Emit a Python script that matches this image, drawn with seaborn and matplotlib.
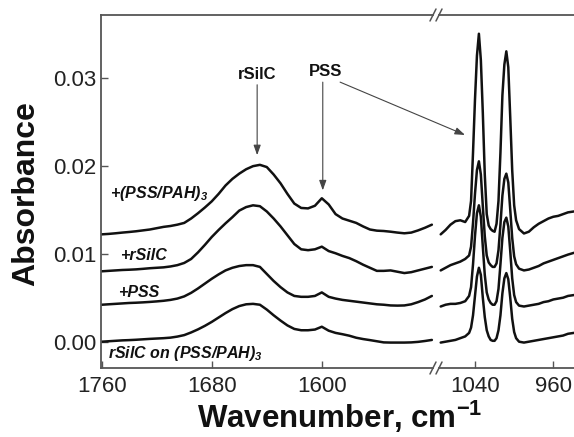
import numpy as np
import pandas as pd
import matplotlib
matplotlib.use("Agg")
import matplotlib.pyplot as plt
import seaborn as sns

sns.set_theme(style="ticks")
plt.rcParams['font.family'] = ['Liberation Sans', 'DejaVu Sans']
plt.rcParams['mathtext.fontset'] = 'custom'
plt.rcParams['mathtext.rm'] = 'Liberation Sans'
plt.rcParams['mathtext.bf'] = 'Liberation Sans:bold'
plt.rcParams['mathtext.it'] = 'Liberation Sans:italic'
plt.rcParams['mathtext.bfit'] = 'Liberation Sans:italic:bold'

# ---------------- data ----------------
samples = ["rSilC on (PSS/PAH)3", "+PSS", "+rSilC", "+(PSS/PAH)3"]

wn_left = [1760, 1755, 1750, 1745, 1740, 1735, 1730, 1725, 1720, 1715, 1710,
           1705, 1700, 1695, 1690, 1685, 1680, 1675, 1670, 1665, 1660, 1655,
           1650, 1645, 1640, 1635, 1630, 1625, 1620, 1615, 1610, 1605, 1600,
           1595, 1590, 1585, 1580, 1575, 1570, 1565, 1560, 1555, 1550, 1545,
           1540, 1535, 1530, 1525, 1520]
abs_left_bottom = [0.00000, 0.00005, 0.00010, 0.00015, 0.00018, 0.00022, 0.00027,
                   0.00032, 0.00036, 0.00040, 0.00046, 0.00058, 0.00075, 0.00105,
                   0.00140, 0.00180, 0.00225, 0.00275, 0.00325, 0.00370, 0.00405,
                   0.00425, 0.00430, 0.00420, 0.00365, 0.00300, 0.00240, 0.00185,
                   0.00145, 0.00130, 0.00130, 0.00138, 0.00170, 0.00125, 0.00100,
                   0.00085, 0.00068, 0.00045, 0.00030, 0.00018, 0.00005, -0.00008,
                   -0.00010, -0.00010, -0.00010, -0.00008, -0.00002, 0.00008, 0.00020]
abs_left_pss = [0.00420, 0.00425, 0.00430, 0.00435, 0.00440, 0.00443, 0.00447,
                0.00452, 0.00458, 0.00465, 0.00475, 0.00490, 0.00515, 0.00555,
                0.00605, 0.00660, 0.00715, 0.00765, 0.00810, 0.00840, 0.00860,
                0.00870, 0.00870, 0.00850, 0.00770, 0.00690, 0.00620, 0.00560,
                0.00520, 0.00510, 0.00510, 0.00520, 0.00560, 0.00510, 0.00490,
                0.00475, 0.00465, 0.00455, 0.00445, 0.00435, 0.00425, 0.00420,
                0.00412, 0.00410, 0.00412, 0.00425, 0.00450, 0.00480, 0.00520]
abs_left_rsilc = [0.00800, 0.00805, 0.00810, 0.00815, 0.00818, 0.00822, 0.00828,
                  0.00835, 0.00840, 0.00845, 0.00855, 0.00870, 0.00895, 0.00940,
                  0.01015, 0.01100, 0.01190, 0.01270, 0.01345, 0.01415, 0.01490,
                  0.01530, 0.01550, 0.01540, 0.01480, 0.01400, 0.01310, 0.01210,
                  0.01110, 0.01050, 0.01040, 0.01050, 0.01080, 0.01030, 0.01005,
                  0.00975, 0.00950, 0.00915, 0.00875, 0.00840, 0.00805, 0.00805,
                  0.00810, 0.00795, 0.00780, 0.00790, 0.00810, 0.00830, 0.00850]
abs_left_top = [0.01220, 0.01225, 0.01232, 0.01240, 0.01247, 0.01255, 0.01265,
                0.01275, 0.01290, 0.01305, 0.01315, 0.01330, 0.01350, 0.01400,
                0.01460, 0.01525, 0.01595, 0.01680, 0.01775, 0.01850, 0.01910,
                0.01960, 0.01995, 0.02010, 0.01985, 0.01900, 0.01800, 0.01680,
                0.01570, 0.01520, 0.01515, 0.01545, 0.01630, 0.01560, 0.01450,
                0.01400, 0.01375, 0.01350, 0.01310, 0.01275, 0.01262, 0.01258,
                0.01250, 0.01240, 0.01232, 0.01240, 0.01265, 0.01295, 0.01330]

wn_right = [1075, 1070, 1065, 1060, 1055, 1050, 1046, 1044, 1042, 1040, 1038,
            1036, 1034, 1032, 1030, 1028, 1026, 1024, 1022, 1020, 1018, 1016,
            1014, 1012, 1010, 1008, 1006, 1004, 1002, 1000, 998, 995, 990, 985,
            980, 975, 970, 965, 960, 955, 950, 945, 939]
abs_right_bottom = [-0.0001, 0.0000, 0.0001, 0.0002, 0.0004, 0.0006, 0.0010, 0.0016,
                    0.0030, 0.0052, 0.0074, 0.0084, 0.0076, 0.0050, 0.0028, 0.0013,
                    0.0006, 0.0002, 0.0001, 0.0001, 0.0004, 0.0013, 0.0030, 0.0055,
                    0.0072, 0.0078, 0.0071, 0.0050, 0.0026, 0.0011, 0.0004, 0.0000,
                    -0.0001, 0.0000, 0.0001, 0.0002, 0.0003, 0.0004, 0.0005, 0.0006,
                    0.0007, 0.0009, 0.0010]
abs_right_pss = [0.0040, 0.0042, 0.0043, 0.0043, 0.0044, 0.0046, 0.0052, 0.0062,
                 0.0088, 0.0120, 0.0146, 0.0155, 0.0142, 0.0108, 0.0076, 0.0056,
                 0.0048, 0.0044, 0.0042, 0.0042, 0.0046, 0.0060, 0.0088, 0.0118,
                 0.0136, 0.0141, 0.0131, 0.0103, 0.0072, 0.0053, 0.0045, 0.0041,
                 0.0040, 0.0041, 0.0042, 0.0043, 0.0045, 0.0046, 0.0048, 0.0049,
                 0.0050, 0.0052, 0.0053]
abs_right_rsilc = [0.0081, 0.0084, 0.0087, 0.0089, 0.0091, 0.0094, 0.0098, 0.0108,
                   0.0135, 0.0168, 0.0195, 0.0205, 0.0190, 0.0154, 0.0120, 0.0098,
                   0.0090, 0.0087, 0.0085, 0.0085, 0.0089, 0.0104, 0.0133, 0.0166,
                   0.0185, 0.0191, 0.0181, 0.0150, 0.0118, 0.0097, 0.0088, 0.0083,
                   0.0081, 0.0082, 0.0084, 0.0086, 0.0089, 0.0091, 0.0093, 0.0095,
                   0.0097, 0.0099, 0.0101]
abs_right_top = [0.0122, 0.0127, 0.0133, 0.0137, 0.0138, 0.0136, 0.0143, 0.0160,
                 0.0215, 0.0275, 0.0325, 0.0350, 0.0320, 0.0260, 0.0190, 0.0145,
                 0.0132, 0.0128, 0.0126, 0.0125, 0.0134, 0.0160, 0.0215, 0.0280,
                 0.0315, 0.0330, 0.0312, 0.0255, 0.0195, 0.0155, 0.0138, 0.0128,
                 0.0123, 0.0125, 0.0130, 0.0134, 0.0137, 0.0140, 0.0142, 0.0143,
                 0.0145, 0.0147, 0.0148]

left_series = [abs_left_bottom, abs_left_pss, abs_left_rsilc, abs_left_top]
right_series = [abs_right_bottom, abs_right_pss, abs_right_rsilc, abs_right_top]

y_ticks = [0.00, 0.01, 0.02, 0.03]
x_ticks_left = [1760, 1680, 1600]
x_ticks_right = [1040, 960]

def long_df(wn, series):
    frames = [pd.DataFrame({"wn": wn, "abs": s, "sample": name})
              for name, s in zip(samples, series)]
    return pd.concat(frames, ignore_index=True)

df_left = long_df(wn_left, left_series)
df_right = long_df(wn_right, right_series)

# ---------------- figure ----------------
W, H = 574, 437
fig = plt.figure(figsize=(W / 100, H / 100), dpi=100)
x0, xb, x1 = 101, 436, 574
yb, yt = 368, 15
axL = fig.add_axes([x0 / W, (H - yb) / H, (xb - x0) / W, (yb - yt) / H])
axR = fig.add_axes([xb / W, (H - yb) / H, (x1 - xb) / W, (yb - yt) / H])

line_col = "#111111"
spine_col = "#555555"
for ax, df in ((axL, df_left), (axR, df_right)):
    sns.lineplot(data=df, x="wn", y="abs", hue="sample", palette=[line_col] * 4,
                 estimator=None, sort=False, legend=False, lw=1.8, ax=ax)
    ax.set_ylim(-0.00299, 0.03713)
    ax.set_xlabel("")
    ax.set_ylabel("")
    ax.set_facecolor("none")
    for s in ax.spines.values():
        s.set_color(spine_col)
        s.set_linewidth(1.3)
    ax.tick_params(direction="in", length=5, width=1.0, color=spine_col,
                   labelsize=16, labelcolor="#222222", pad=6)

axL.set_xlim(1760.5, 1517)
axR.set_xlim(1079.8, 938.9)

axL.set_xticks(x_ticks_left)
axL.set_yticks(y_ticks)
axL.set_yticklabels([f"{v:.2f}" for v in y_ticks])
axL.tick_params(axis="y", pad=3)
axL.spines["right"].set_visible(False)
axL.spines["bottom"].set_bounds(1760.5, 1519.5)
axL.spines["top"].set_bounds(1760.5, 1519.5)

axR.set_xticks(x_ticks_right)
axR.set_yticks([])
axR.spines["left"].set_visible(False)
axR.spines["right"].set_visible(False)
axR.spines["bottom"].set_bounds(1076.5, 938.9)
axR.spines["top"].set_bounds(1076.5, 938.9)

# break marks
for py in (yb, yt):
    for px in (433, 439):
        fig.add_artist(plt.Line2D([(px - 3) / W, (px + 3) / W],
                                  [(H - py - 6) / H, (H - py + 6) / H],
                                  transform=fig.transFigure, color=spine_col, lw=1.1))

# curve labels
lab_kw = dict(fontsize=11.5, fontweight="bold", fontstyle="italic", color="#111111",
              ha="left", va="baseline")
axL.text(1754, 0.01633, r"+(PSS/PAH)$_{\mathbfit{3}}$", **lab_kw)
axL.text(1746.7, 0.00928, "+rSilC", **lab_kw)
axL.text(1748, 0.00511, "+PSS", **lab_kw)
axL.text(1755.2, -0.00185, r"rSilC on (PSS/PAH)$_{\mathbfit{3}}$", **lab_kw)

# peak annotations
ann_kw = dict(fontsize=12, fontweight="bold", color="#111111", ha="center", va="baseline")
axL.text(1647, 0.0299, "rSilC", **ann_kw)
axL.text(1597.6, 0.0302, "PSS", **ann_kw)
arr = dict(arrowstyle="-|>,head_length=0.5,head_width=0.18", color="#444444", lw=0.8,
           shrinkA=0, shrinkB=0)
axL.annotate("", xy=(1647, 0.0212), xytext=(1647, 0.0292), arrowprops=arr)
axL.annotate("", xy=(1599.3, 0.0172), xytext=(1599.3, 0.0295), arrowprops=arr)
axR.annotate("", xy=(1050.2, 0.0235), xycoords=axR.transData,
             xytext=(1586.7, 0.0295), textcoords=axL.transData,
             arrowprops=arr, annotation_clip=False)

# axis titles
fig.text(26 / W, 1 - 194 / H, "Absorbance", rotation=90, fontsize=23,
         fontweight="bold", ha="center", va="center", color="#111111")
fig.text(340 / W, 1 - 417 / H, r"Wavenumber, cm$^{\mathbf{-1}}$", fontsize=22.5,
         fontweight="bold", ha="center", va="center", color="#111111")

fig.savefig("out.png", dpi=100)
